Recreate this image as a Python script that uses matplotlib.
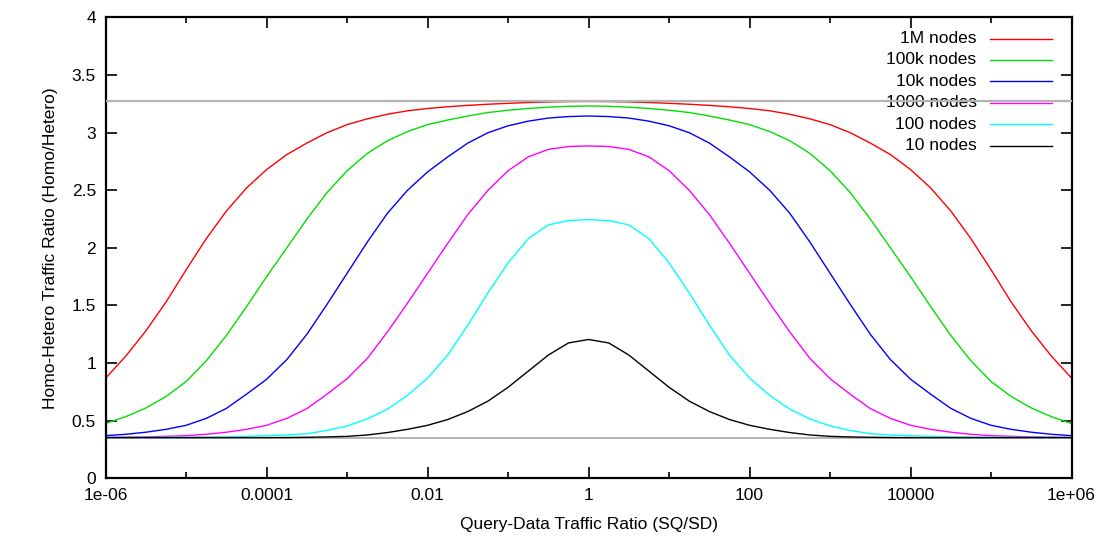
import matplotlib
matplotlib.use('Agg')
import matplotlib.pyplot as plt
from matplotlib.ticker import NullFormatter
import numpy as np

plt.rcParams['font.family'] = ['Liberation Sans', 'DejaVu Sans']

# x sample grid: exponent of SQ/SD, quarter decades from 1e-6 to 1e6
exps = np.arange(-6, 6.001, 0.25)

# values, left half (1e-6 .. 1), curves are mirror images
red_left = [0.87, 1.06, 1.28, 1.53, 1.81, 2.08, 2.32, 2.52, 2.68, 2.81, 2.91, 3.00,
            3.07, 3.12, 3.16, 3.19, 3.21, 3.225, 3.237, 3.247, 3.255, 3.262, 3.267, 3.27, 3.271]
green_left = [0.475, 0.535, 0.61, 0.71, 0.84, 1.02, 1.24, 1.49, 1.75, 2.00, 2.25, 2.48,
              2.67, 2.82, 2.93, 3.01, 3.07, 3.11, 3.145, 3.175, 3.195, 3.21, 3.222, 3.229, 3.232]
blue_left = [0.37, 0.382, 0.40, 0.425, 0.46, 0.52, 0.607, 0.73, 0.86, 1.03, 1.25, 1.51,
             1.78, 2.05, 2.30, 2.50, 2.66, 2.79, 2.91, 3.00, 3.06, 3.10, 3.127, 3.14, 3.145]
magenta_left = [0.355, 0.357, 0.36, 0.364, 0.37, 0.382, 0.40, 0.425, 0.46, 0.52, 0.605, 0.73,
                0.865, 1.04, 1.27, 1.52, 1.78, 2.04, 2.29, 2.50, 2.67, 2.79, 2.855, 2.88, 2.885]
cyan_left = [0.355, 0.355, 0.355, 0.356, 0.357, 0.358, 0.36, 0.364, 0.37, 0.375, 0.387, 0.415,
             0.455, 0.515, 0.60, 0.72, 0.87, 1.07, 1.33, 1.61, 1.87, 2.08, 2.20, 2.237, 2.245]
black_left = [0.353, 0.353, 0.353, 0.353, 0.353, 0.353, 0.353, 0.353, 0.353, 0.354, 0.356, 0.359,
              0.364, 0.376, 0.397, 0.425, 0.46, 0.51, 0.58, 0.67, 0.79, 0.93, 1.07, 1.175, 1.205]

labels = ['1M nodes', '100k nodes', '10k nodes', '1000 nodes', '100 nodes', '10 nodes']
colors = ['#ff0000', '#00e000', '#0000ff', '#ff00ff', '#00ffff', '#000000']
upper_limit = 3.278
lower_limit = 0.353


def mirror(left):
    # right half is the same curve reflected about SQ/SD = 1
    return list(left) + list(left[-2::-1])


series = [mirror(s) for s in [red_left, green_left, blue_left, magenta_left, cyan_left, black_left]]
x = 10.0 ** exps

fig = plt.figure(figsize=(11.11, 5.45), dpi=100)
ax = fig.add_axes([0.0951, 0.1224, 0.8694, 0.8455])

ax.axhline(lower_limit, color='#a8a8a8', lw=1.2, zorder=1)
for vals, col in zip(series, colors):
    ax.plot(x, vals, color=col, lw=1.0, zorder=2)
ax.axhline(upper_limit, color='#b4b4b4', lw=1.6, zorder=4)

ax.set_xscale('log')
ax.set_xlim(1e-6, 1e6)
ax.set_ylim(0, 4)

ax.set_xticks([1e-6, 1e-4, 1e-2, 1, 1e2, 1e4, 1e6])
ax.set_xticklabels(['1e-06', '0.0001', '0.01', '1', '100', '10000', '1e+06'])
ax.set_xticks([1e-5, 1e-3, 1e-1, 1e1, 1e3, 1e5], minor=True)
ax.xaxis.set_minor_formatter(NullFormatter())
ax.set_yticks(np.arange(0, 4.01, 0.5))
ax.set_yticklabels(['0', '0.5', '1', '1.5', '2', '2.5', '3', '3.5', '4'])
ax.tick_params(which='both', direction='in', top=True, right=True, labelsize=12.5, width=1.2)
ax.tick_params(which='major', length=8, pad=7)
ax.tick_params(which='minor', length=4)
for sp in ax.spines.values():
    sp.set_linewidth(1.6)

ax.set_xlabel('Query-Data Traffic Ratio (SQ/SD)', fontsize=12.5, labelpad=10)
ax.set_ylabel('Homo-Hetero Traffic Ratio (Homo/Hetero)', fontsize=12.5, labelpad=10)

# gnuplot-style key: right-justified text followed by a line sample
for i, (lab, col) in enumerate(zip(labels, colors)):
    yk = 0.9542 - i * 0.0464
    ax.text(0.9017, yk, lab, transform=ax.transAxes, ha='right', va='center', fontsize=12.5, zorder=3)
    ax.plot([0.9157, 0.9799], [yk, yk], color=col, lw=1.0, transform=ax.transAxes, zorder=3)

fig.savefig('out.png', dpi=100)
